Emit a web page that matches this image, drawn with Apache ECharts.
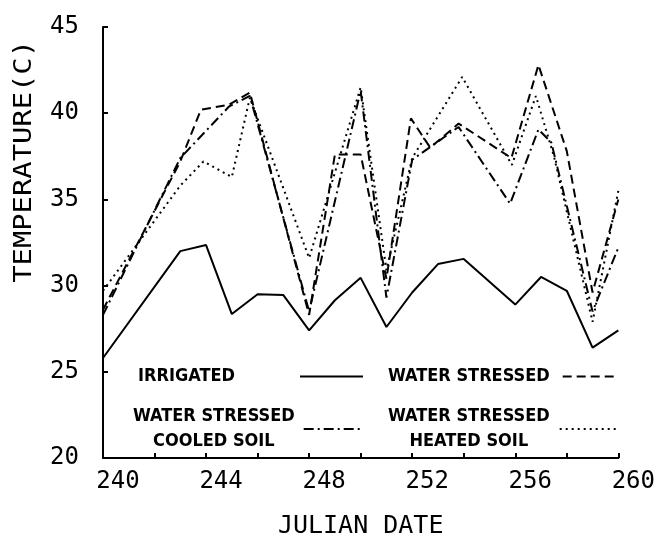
<!DOCTYPE html>
<html>
<head>
<meta charset="utf-8">
<script src="https://cdn.jsdelivr.net/npm/echarts@6/dist/echarts.min.js"></script>
<style>
  html, body { margin: 0; padding: 0; background: #fff; }
  #chart { width: 658px; height: 544px; }
</style>
</head>
<body>
<div id="chart"></div>
<script>
// [julian day, temperature C]
const irrigated = [[240,25.8],[243,32.0],[244,32.35],[245,28.35],[246,29.5],[247,29.45],[248,27.4],[249,29.15],[250,30.45],[251,27.6],[252,29.6],[253,31.25],[254,31.55],[256,28.9],[257,30.5],[258,29.7],[259,26.4],[260,27.4]]
const waterStressed = [[240,28.6],[243,37.2],[243.8,40.2],[244.9,40.5],[245.7,41.2],[248,28.3],[249,37.6],[250,37.6],[251,30.4],[251.95,39.7],[252.7,38.0],[253.8,39.4],[255.85,37.4],[256.9,42.8],[258,37.8],[259,29.6],[260,35.0]]
const cooledSoil = [[240,28.3],[243,37.4],[244.9,40.4],[245.7,41.0],[248,28.5],[250,41.3],[251,29.3],[252,37.3],[253.8,39.2],[255.8,34.75],[256.9,39.06],[257.4,38.3],[259,28.5],[260,32.2]]
const heatedSoil = [[240,29.7],[243,35.8],[243.9,37.2],[245,36.3],[245.7,40.9],[248,31.6],[250,41.5],[251,30.9],[252,37.4],[253.94,42.1],[255.87,37.0],[256.8,41.0],[257.5,37.5],[259,27.9],[260,35.5]]

const xLabels = [240, 244, 248, 252, 256, 260]
const yLabels = [20, 25, 30, 35, 40, 45]

const names = ['IRRIGATED', 'WATER STRESSED', 'WATER STRESSED\nCOOLED SOIL', 'WATER STRESSED\nHEATED SOIL']
const dashes = ['solid', [9, 5], [10, 4, 2, 4], [2, 4]]

const axisFont = 'DejaVu Sans Mono'
const legendFont = "'Liberation Sans Narrow', 'DejaVu Sans Condensed', 'Liberation Sans', sans-serif"

const chart = echarts.init(document.getElementById('chart'), null, { renderer: 'canvas' })

const legendText = { color: '#000', fontFamily: legendFont, fontWeight: 'bold', fontSize: 18, lineHeight: 25 }

// text sits left of the line sample; padRight opens the gap before the sample
function legendBox(i, left, top, padRight, iconWidth) {
  return {
    left: left,
    top: top,
    orient: 'horizontal',
    padding: 0,
    align: 'right',
    selectedMode: false,
    itemWidth: iconWidth,
    itemHeight: 10,
    data: [{
      name: names[i],
      lineStyle: { color: '#000', width: 2, type: dashes[i] },
      itemStyle: { opacity: 0 }
    }],
    formatter: n => n.split('\n').map(l => '{c|' + l + '}').join('\n'),
    textStyle: Object.assign({}, legendText, {
      padding: [0, padRight, 0, 0],
      rich: { c: Object.assign({ align: 'center' }, legendText) }
    })
  }
}

const series = [irrigated, waterStressed, cooledSoil, heatedSoil].map((d, i) => ({
  name: names[i],
  type: 'line',
  data: d,
  symbol: 'none',
  animation: false,
  lineStyle: { color: '#000', width: 2, type: dashes[i] },
  itemStyle: { color: '#000' }
}))

const option = {
  backgroundColor: '#fff',
  animation: false,
  grid: { left: 103, right: 38, top: 27, bottom: 71 },
  legend: [
    legendBox(0, 138, 364, 60, 63),
    legendBox(1, 388, 364, 8, 55),
    legendBox(2, 133, 404, 4, 56),
    legendBox(3, 388, 404, 5, 56)
  ],
  graphic: [{
    type: 'text',
    left: 13,
    top: 40,
    rotation: Math.PI / 2,
    scaleX: 1.2,
    style: {
      text: 'TEMPERATURE(C)',
      font: '24px ' + axisFont,
      fill: '#000'
    }
  }],
  xAxis: {
    type: 'value',
    min: 240,
    max: 260,
    interval: 2,
    name: 'JULIAN DATE',
    nameLocation: 'middle',
    nameGap: 56,
    nameTextStyle: { color: '#000', fontFamily: axisFont, fontSize: 25 },
    axisLine: { lineStyle: { color: '#000', width: 2 } },
    axisTick: { inside: true, length: 5, lineStyle: { color: '#000', width: 2 } },
    splitLine: { show: false },
    axisLabel: {
      color: '#000',
      fontFamily: axisFont,
      fontSize: 24,
      margin: 12,
      padding: [0, 0, 0, 30],
      formatter: v => xLabels.includes(v) ? String(v) : ''
    }
  },
  yAxis: {
    type: 'value',
    min: 20,
    max: 45,
    interval: 5,
    axisLine: { show: true, lineStyle: { color: '#000', width: 2 } },
    axisTick: { show: true, inside: true, length: 5, lineStyle: { color: '#000', width: 2 } },
    splitLine: { show: false },
    axisLabel: {
      color: '#000',
      fontFamily: axisFont,
      fontSize: 24,
      margin: 24,
      formatter: v => yLabels.includes(v) ? String(v) : ''
    }
  },
  series: series
}

chart.setOption(option)
</script>
</body>
</html>
